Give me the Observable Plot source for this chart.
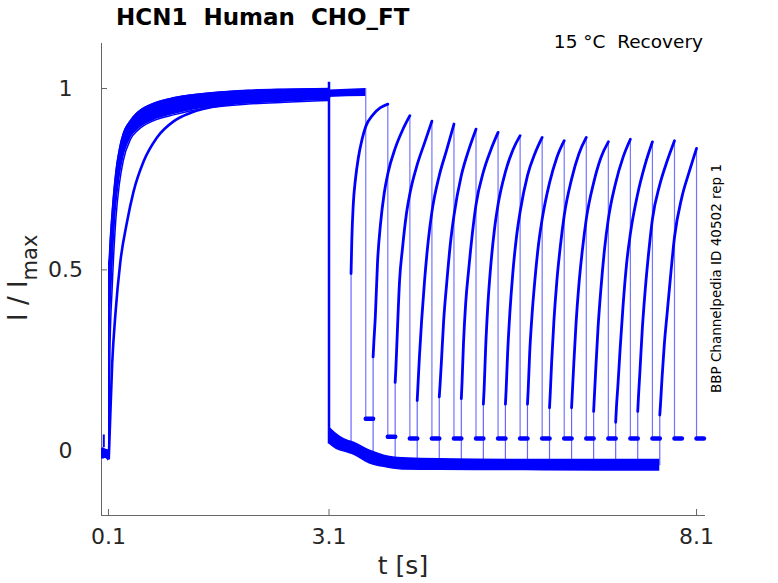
<!DOCTYPE html>
<html><head><meta charset="utf-8">
<script src="https://cdn.jsdelivr.net/npm/d3@7"></script>
<script src="https://cdn.jsdelivr.net/npm/@observablehq/plot@0.6"></script>
<style>body{margin:0;background:#fff}</style>
</head><body><div id="chart"></div>
<script>
// ---- texts ----
const titleText = "HCN1  Human  CHO_FT";
const conditionText = "15 °C  Recovery";
const sideNote = "BBP Channelpedia ID 40502 rep 1";
const xLabel = "t [s]";

// ---- axes ----
const xTicks = [0.1, 3.1, 8.1];
const xTickLabels = ["0.1", "3.1", "8.1"];
const yTicks = [0, 0.5, 1];
const yTickLabels = ["0", "0.5", "1"];
const xDomain = [0.005, 8.222];
const yDomain = [-0.177, 1.124];

// ---- holding before the first pulse ----
const preT  = [0.005, 0.03, 0.06, 0.1];
const preLo = [-0.02, -0.022, -0.02, -0.028];
const preHi = [0.008, 0.01, 0.006, 0.004];
const preSpikeT = [0.036];
const preSpikeV = [0.045];

// ---- first pulse (activation) ----
const p1On = 0.104, p1Off = 3.1;
const p1T      = [0.104, 0.11, 0.12, 0.15, 0.2, 0.25, 0.3, 0.4, 0.5, 0.7, 1.0, 1.5, 2.0, 2.5, 3.1];
const p1FastLo = [-0.02, 0.1, 0.28, 0.45, 0.64, 0.74, 0.8, 0.86, 0.885, 0.91, 0.928, 0.948, 0.957, 0.962, 0.967];
const p1FastHi = [0.52, 0.53, 0.57, 0.66, 0.77, 0.835, 0.875, 0.912, 0.935, 0.958, 0.975, 0.988, 0.995, 0.998, 1.0];
const p1SlowT  = [0.104, 0.118, 0.15, 0.195, 0.26, 0.35, 0.44, 0.58, 0.76, 0.99, 1.22, 1.67, 2.1, 2.6, 3.1];
const p1SlowV  = [-0.02, 0.06, 0.24, 0.38, 0.52, 0.63, 0.715, 0.8, 0.865, 0.91, 0.933, 0.955, 0.965, 0.97, 0.975];
const p1OffSpike = 1.017;

// ---- deactivation baseline after the first pulse ----
const baseT  = [3.1, 3.2, 3.3, 3.45, 3.65, 3.85, 4.1, 4.6, 6.0, 7.6];
const baseLo = [0.02, 0.005, -0.002, -0.012, -0.035, -0.045, -0.052, -0.053, -0.054, -0.055];
const baseHi = [0.068, 0.05, 0.036, 0.025, 0.004, -0.01, -0.017, -0.02, -0.022, -0.022];

// ---- second pulse: gap after first pulse per sweep ----
const gaps = [0, 0.3, 0.6, 0.9, 1.2, 1.5, 1.8, 2.1, 2.4, 2.7, 3.0, 3.3, 3.6, 3.9, 4.2, 4.5];
const p2Length = 0.5;
const tailLength = 0.1;
const tails = [0.09, 0.04, 0.035, 0.035, 0.035, 0.035, 0.035, 0.035, 0.035, 0.035, 0.035, 0.035, 0.035, 0.035, 0.035, 0.035];
// sweep 0 (no gap): plateau continues
const plateauT  = [3.1, 3.35, 3.6];
const plateauLo = [0.975, 0.977, 0.978];
const plateauHi = [0.996, 0.998, 1.0];
// sweeps 1..15: recovery currents at times after P2 onset
const p2Dt = [0, 0.01, 0.03, 0.06, 0.1, 0.15, 0.2, 0.3, 0.4, 0.5];
const p2From = [0.01, -0.012, -0.02, -0.025, -0.03, -0.035, -0.035, -0.035, -0.035, -0.038, -0.038, -0.038, -0.038, -0.04, -0.04];
const sweep1  = [0.49, 0.58, 0.68, 0.75, 0.81, 0.86, 0.895, 0.928, 0.947, 0.957];
const sweep2  = [0.26, 0.30, 0.37, 0.52, 0.625, 0.71, 0.765, 0.835, 0.885, 0.925];
const sweep3  = [0.19, 0.23, 0.33, 0.47, 0.56, 0.65, 0.71, 0.79, 0.85, 0.91];
const sweep4  = [0.14, 0.18, 0.26, 0.36, 0.47, 0.58, 0.66, 0.76, 0.83, 0.902];
const sweep5  = [0.15, 0.18, 0.25, 0.36, 0.46, 0.57, 0.65, 0.76, 0.83, 0.888];
const sweep6  = [0.145, 0.19, 0.30, 0.41, 0.50, 0.60, 0.68, 0.77, 0.83, 0.879];
const sweep7  = [0.13, 0.17, 0.28, 0.40, 0.51, 0.61, 0.68, 0.77, 0.83, 0.87];
const sweep8  = [0.13, 0.17, 0.27, 0.38, 0.49, 0.59, 0.66, 0.76, 0.82, 0.865];
const sweep9  = [0.13, 0.17, 0.27, 0.37, 0.47, 0.57, 0.64, 0.74, 0.81, 0.856];
const sweep10 = [0.12, 0.16, 0.25, 0.36, 0.47, 0.57, 0.65, 0.75, 0.82, 0.865];
const sweep11 = [0.12, 0.16, 0.24, 0.35, 0.46, 0.56, 0.64, 0.74, 0.81, 0.853];
const sweep12 = [0.11, 0.15, 0.23, 0.34, 0.45, 0.56, 0.64, 0.74, 0.81, 0.86];
const sweep13 = [0.08, 0.12, 0.18, 0.28, 0.40, 0.52, 0.60, 0.71, 0.79, 0.853];
const sweep14 = [0.11, 0.15, 0.22, 0.33, 0.44, 0.55, 0.64, 0.735, 0.80, 0.856];
const sweep15 = [0.10, 0.13, 0.20, 0.29, 0.38, 0.49, 0.59, 0.70, 0.77, 0.835];
const p2Curves = [sweep1, sweep2, sweep3, sweep4, sweep5, sweep6, sweep7, sweep8,
                  sweep9, sweep10, sweep11, sweep12, sweep13, sweep14, sweep15];

// ---- build tables ----
const blue = "#0000ff";
const band = (T, L, Hh) => T.map((t, i) => ({t, lo: L[i], hi: Hh[i]}));
const preRows = band(preT, preLo, preHi);
const p1Rows = band(p1T, p1FastLo, p1FastHi);
const slowRows = p1SlowT.map((t, i) => ({t, v: p1SlowV[i]}));
const baseRows = band(baseT, baseLo, baseHi);
const plateauRows = band(plateauT, plateauLo, plateauHi);

const p2Rows = [], jumpRows = [], dropRows = [], tailRows = [];
p2Curves.forEach((vals, i) => {
  const k = i + 1;
  const start = p1Off + gaps[k];
  vals.forEach((v, j) => p2Rows.push({sweep: k, t: start + p2Dt[j], v}));
  jumpRows.push({t: start, y1: p2From[i], y2: vals[0]});
});
gaps.forEach((g, k) => {
  const end = p1Off + g + p2Length;
  const peak = k === 0 ? plateauHi[plateauHi.length - 1] : p2Curves[k - 1][p2Curves[k - 1].length - 1];
  dropRows.push({t: end, y1: tails[k], y2: peak});
  tailRows.push({sweep: k, t: end, v: tails[k]});
  tailRows.push({sweep: k, t: end + tailLength, v: tails[k]});
});

const W = 778, H = 583, mL = 101, mR = 73, mT = 43, mB = 68;
const tickLenY = 6 * (yDomain[1] - yDomain[0]) / (H - mT - mB);
const tickLenX = 6 * (xDomain[1] - xDomain[0]) / (W - mL - mR);
const axisColor = "#666";

const chart = Plot.plot({
  width: W, height: H,
  marginLeft: mL, marginRight: mR, marginTop: mT, marginBottom: mB,
  style: {fontFamily: "DejaVu Sans", color: "#262626", background: "#fff"},
  x: {domain: xDomain, label: null},
  y: {domain: yDomain, label: null},
  marks: [
    // axis lines & inward ticks
    Plot.ruleX(xDomain.slice(0, 1), {stroke: axisColor}),
    Plot.ruleY(yDomain.slice(0, 1), {stroke: axisColor}),
    Plot.ruleX(xTicks, {x: d => d, y1: yDomain[0], y2: yDomain[0] + tickLenY, stroke: axisColor}),
    Plot.ruleY(yTicks, {y: d => d, x1: xDomain[0], x2: xDomain[0] + tickLenX, stroke: axisColor}),
    Plot.axisX(xTicks, {tickSize: 0, tickPadding: 13, fontSize: 22, label: null,
      tickFormat: d => xTickLabels[xTicks.indexOf(d)]}),
    Plot.axisY(yTicks, {tickSize: 0, tickPadding: 36, textAnchor: "middle", fontSize: 22, label: null,
      tickFormat: d => yTickLabels[yTicks.indexOf(d)]}),
    // holding
    Plot.areaY(preRows, {x: "t", y1: "lo", y2: "hi", fill: blue, curve: "monotone-x"}),
    Plot.ruleX(preSpikeT, {x: d => d, y1: preHi[1], y2: (d, i) => preSpikeV[i], stroke: blue, strokeWidth: 2}),
    // first pulse
    Plot.ruleX([p1On], {x: d => d, y1: p1FastLo[0], y2: p1FastHi[0], stroke: blue, strokeWidth: 1.5}),
    Plot.areaY(p1Rows, {x: "t", y1: "lo", y2: "hi", fill: blue, curve: "monotone-x"}),
    Plot.line(p1Rows, {x: "t", y: "hi", stroke: blue, strokeWidth: 1.5, curve: "monotone-x"}),
    Plot.line(p1Rows, {x: "t", y: "lo", stroke: blue, strokeWidth: 1.5, curve: "monotone-x"}),
    Plot.line(slowRows, {x: "t", y: "v", stroke: blue, strokeWidth: 2.6, curve: "monotone-x"}),
    Plot.ruleX([p1Off], {x: d => d, y1: baseLo[0], y2: p1OffSpike, stroke: blue, strokeWidth: 2.5}),
    // deactivation baseline
    Plot.areaY(baseRows, {x: "t", y1: "lo", y2: "hi", fill: blue, curve: "monotone-x"}),
    Plot.areaY(plateauRows, {x: "t", y1: "lo", y2: "hi", fill: blue}),
    // second pulses
    Plot.ruleX(jumpRows, {x: "t", y1: "y1", y2: "y2", stroke: blue, strokeOpacity: 0.6, strokeWidth: 1.2}),
    Plot.ruleX(dropRows, {x: "t", y1: "y1", y2: "y2", stroke: blue, strokeOpacity: 0.55, strokeWidth: 1.2}),
    Plot.line(p2Rows, {x: "t", y: "v", z: "sweep", stroke: blue, strokeWidth: 2.8, curve: "monotone-x"}),
    Plot.line(tailRows, {x: "t", y: "v", z: "sweep", stroke: blue, strokeWidth: 4.5})
  ]
});

const svg = d3.select(chart);
svg.append("text").attr("x", 116).attr("y", 25).attr("text-anchor", "start")
  .attr("font-size", 23).attr("font-weight", "bold").attr("fill", "#000")
  .style("font-family", "DejaVu Sans").style("white-space", "pre").text(titleText);
svg.append("text").attr("x", 703).attr("y", 48).attr("text-anchor", "end")
  .attr("font-size", 18.5).attr("fill", "#000")
  .style("font-family", "DejaVu Sans").style("white-space", "pre").text(conditionText);
svg.append("text").attr("transform", "translate(721,278.5) rotate(-90)").attr("text-anchor", "middle")
  .attr("font-size", 13.5).attr("fill", "#000")
  .style("font-family", "DejaVu Sans").text(sideNote);
svg.append("text").attr("x", 403).attr("y", 574).attr("text-anchor", "middle")
  .attr("font-size", 25).attr("fill", "#262626")
  .style("font-family", "DejaVu Sans").text(xLabel);
const yl = svg.append("text").attr("transform", "translate(27,321) rotate(-90)").attr("text-anchor", "start")
  .attr("fill", "#262626").style("font-family", "DejaVu Sans");
yl.append("tspan").attr("font-size", 26).text("I / I");
yl.append("tspan").attr("font-size", 21).attr("dy", 10).text("max");

document.getElementById("chart").appendChild(chart);
</script>
</body></html>
